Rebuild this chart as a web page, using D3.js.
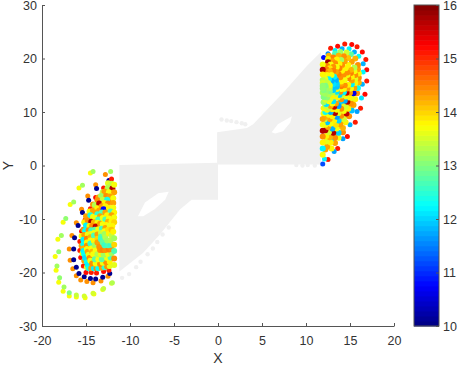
<!DOCTYPE html>
<html>
<head>
<meta charset="utf-8">
<script src="https://cdn.jsdelivr.net/npm/d3@7/dist/d3.min.js"></script>
<style>
  html, body { margin: 0; padding: 0; background: #fff; overflow: hidden; }
  text { font-family: "Liberation Sans", Arial, sans-serif; fill: #333; }
</style>
</head>
<body>
<div id="chart"></div>
<script>
// ticks
const xTicks = [-20, -15, -10, -5, 0, 5, 10, 15, 20];
const yTicks = [-30, -20, -10, 0, 10, 20, 30];
const cbTicks = [10, 11, 12, 13, 14, 15, 16];

// jet colormap stops (value -> colour)
const jetValues = [10, 10.75, 12.25, 13.75, 15.25, 16];
const jetColors = ["#000080", "#0000ff", "#00ffff", "#ffff00", "#ff0000", "#800000"];

// grey background region, read as outlines [x, y]
const grayRight = [[11.7,21.2],[10.1,18.6],[7.4,13.6],[4.0,7.7],[3.3,7.0],[-0.1,6.2],[-0.1,0.2],[11.7,0.2]];
const grayRightHole = [[6.1,6.2],[6.8,7.7],[8.4,9.2],[8.2,8.0],[7.4,6.4],[6.5,6.0]];
const grayLeft = [[-11.2,0.1],[0,0.5],[0,-6.4],[-3,-6.4],[-4.3,-8.2],[-6.6,-12.9],[-8.5,-16.3],[-11.2,-19.8]];
const grayLeftHole = [[-9.1,-9.5],[-8.3,-6.9],[-6.8,-5.2],[-5.6,-4.9],[-6.0,-6.4],[-7.2,-8.2],[-8.5,-9.5]];
// loose grey points on the region edges
const grayDots = [[0.4,8.6],[1.0,8.4],[1.5,8.3],[2.1,8.1],[2.7,7.9],[3.1,7.7],
  [-10.9,-21.0],[-10.1,-20.3],[-9.3,-19.0],[-8.8,-18.0],[-8.0,-16.6],[-7.4,-15.5],[-6.9,-14.3],[-6.3,-12.9],[-5.6,-11.6],
  [11.0,0.0],[10.2,0.1],[9.6,0.0],[8.9,0.1]];

// right lobe outer rings [x, y, value]
const rightOuter = [
  [12.5,1.1,15.1],[13.6,3.2,15.1],[14.7,5.4,15.2],[15.6,8.1,15.1],[16.2,10.7,15.1],[16.7,13.3,15.2],[16.9,15.8,15.1],[16.9,17.9,15.2],[16.8,19.8,15.1],[16.4,21.2,15.2],[15.8,22.2,15.1],[15.2,22.6,15.2],[14.4,22.7,15.1],[13.6,22.3,15.2],[12.8,21.9,15.1],
  [11.9,0.3,11.2],[12.1,1.2,12.2],[13.2,2.6,11.7],[14.2,5.0,11.7],[15.0,7.6,11.8],[15.8,10.1,11.7],[16.3,12.6,12.1],[16.4,15.2,11.8],[16.5,17.5,12.2],[16.5,19.0,11.8],[16.0,20.4,12.3],[15.5,21.2,11.8],[14.9,21.8,12.2],[14.1,21.8,11.8],[13.3,21.5,12.2],[12.5,20.9,11.6],[12.0,20.2,10.8]
];

// right lobe inner rings [x, y, value]
const rightInner = [
  [12.9,3.2,13.8],[13.3,4.2,14.3],[13.7,5.2,13.7],[14.2,6.2,14.4],[12.2,3.0,14.3],[12.5,4.0,13.7],[12.9,5.0,12.2],[13.2,6.0,14.3],[13.6,7.3,14.4],[14.1,8.4,13.7],[12.4,5.1,14.3],[12.7,6.6,13.7],[13.1,7.6,14.3],[13.5,8.8,13.8],[13.9,9.9,14.4],[12.4,7.2,13.8],[12.8,8.4,11.8],[13.2,9.6,13.7],[13.5,11.0,14.3],[12.3,9.4,14.2],[12.7,10.6,13.8],[13.1,11.8,14.3],[14.4,9.3,14.3],[15.0,10.9,13.7],[15.3,12.0,14.2],[14.3,11.2,13.8],[14.7,12.5,14.3],[13.9,11.9,12.0],[14.2,13.0,13.8],
  [12.4,3.5,14.3],[12.8,4.3,13.8],[13.3,5.2,14.4],[13.7,6.1,12.0],[14.2,7.0,14.2],[14.5,8.1,13.8],[14.9,9.2,14.4],[15.2,10.3,11.9],[15.4,11.3,14.3],[15.6,12.4,13.8],[15.8,13.5,14.4],[15.9,14.5,12.3],[16.0,15.5,14.2],[16.0,16.4,14.4],[16.0,17.2,13.8],[15.9,18.0,14.3],[15.9,18.8,14.4],[15.6,20.0,14.2],[15.1,20.8,12.8],[14.6,21.1,13.5],[13.9,21.2,13.2],[13.3,20.9,12.7],[12.6,20.5,14.2],
  [12.3,4.5,13.6],[12.7,5.3,14.2],[13.1,6.1,15.7],[13.5,6.9,13.7],[13.9,7.7,14.3],[14.3,8.7,13.5],[14.6,9.7,15.6],[14.8,10.6,13.8],[15.1,11.6,14.4],[15.2,12.6,13.6],[15.4,13.5,10.6],[15.5,14.5,14.3],[15.6,15.4,13.8],[15.6,16.2,13.6],[15.6,16.9,14.4],[15.5,17.6,13.7],[15.5,18.3,13.3],[15.2,19.4,14.3],[14.8,20.1,14.1],[14.3,20.4,14.4],[13.7,20.5,14.2],[13.1,20.2,14.5],[12.5,19.9,13.8],
  [12.3,5.5,13.8],[12.6,6.2,13.5],[13.0,6.9,11.8],[13.4,7.6,13.9],[13.7,8.4,12.0],[14.0,9.3,14.4],[14.3,10.2,13.7],[14.5,11.0,13.5],[14.7,11.9,15.7],[14.9,12.7,13.8],[15.0,13.6,14.3],[15.1,14.4,13.7],[15.2,15.2,12.2],[15.2,15.9,14.3],[15.2,16.6,13.8],[15.1,17.3,14.5],[15.1,17.9,14.2],[14.8,18.8,13.8],[14.4,19.5,14.3],[14.0,19.7,13.2],[13.5,19.8,13.8],[13.0,19.5,14.3],[12.5,19.3,15.8],
  [12.2,6.6,15.7],[12.5,7.2,14.3],[12.8,7.8,13.7],[13.2,8.4,13.8],[13.5,9.1,11.7],[13.7,9.8,13.6],[14.0,10.6,14.4],[14.4,12.1,11.8],[14.5,12.9,13.7],[14.6,13.6,15.6],[14.7,14.4,14.3],[14.8,15.1,13.8],[14.8,16.3,14.5],[14.7,16.9,13.7],[14.7,17.4,14.4],[14.5,18.2,13.8],[14.1,18.8,14.4],[13.8,19.0,13.8],[13.3,19.1,14.4],[12.8,18.9,13.7],[12.4,18.6,14.5],
  [12.2,7.6,13.7],[12.4,8.1,11.9],[12.7,8.7,14.3],[13.0,9.2,13.8],[13.3,9.8,15.7],[13.5,10.4,13.7],[13.7,11.1,11.7],[14.0,12.4,14.4],[14.1,13.1,13.5],[14.3,13.7,12.2],[14.3,14.3,13.8],[14.4,15.0,14.4],[14.4,16.0,13.7],[14.3,17.0,14.4],[14.1,17.7,13.8],[13.8,18.2,14.5],[13.5,18.4,13.7],[13.1,18.4,14.4],[12.7,18.2,13.9],[12.3,18.0,14.5],
  [12.1,8.6,13.4],[12.3,9.1,14.2],[12.6,9.5,13.7],[12.8,10.0,11.8],[13.0,10.5,13.8],[13.2,11.0,15.6],[13.4,11.6,14.3],[13.6,12.7,13.8],[13.8,13.2,12.0],[13.9,13.8,14.4],[14.0,14.3,13.7],[14.0,14.8,14.5],[14.0,15.3,14.3],[14.0,15.7,13.8],[13.9,16.5,14.4],[13.7,17.1,14.5],[13.4,17.5,14.3],[13.1,17.7,14.5],[12.7,17.6,14.2],[12.2,17.4,14.4],
  [12.0,9.7,13.7],[12.2,10.0,12.3],[12.4,10.4,13.8],[12.6,10.7,13.4],[12.8,11.1,14.3],[13.0,11.6,13.7],[13.1,12.0,12.1],[13.3,12.9,13.8],[13.4,13.4,13.4],[13.5,13.8,12.1],[13.5,14.3,13.8],[13.5,14.7,11.9],[13.5,15.3,12.0],[13.4,16.0,11.8],[13.2,16.6,12.2],[12.9,16.9,13.7],[12.4,16.9,13.8],[12.1,16.7,13.7],
  [12.0,10.7,13.8],[12.2,11.1,13.4],[12.3,11.5,12.1],[12.6,12.0,13.7],[12.8,12.5,13.6],[12.9,13.2,13.8],[13.0,13.7,13.3],[13.1,14.1,12.0],[13.1,14.7,11.9],[13.1,15.2,12.1],[12.9,15.8,11.8],[12.6,16.1,12.2],[12.2,16.1,13.6],[11.9,16.0,13.3],
  [12.0,11.8,13.2],[12.2,12.3,13.5],[12.4,12.7,13.1],[12.6,13.3,13.3],[12.7,13.9,13.0],[12.7,14.5,13.3],[12.7,15.0,13.6],[12.5,15.4,13.5],[12.2,15.6,13.4],[11.9,15.4,13.5],
  [12.0,12.8,13.0],[12.2,13.4,13.2],[12.3,14.0,13.1],[12.3,14.5,13.2],[12.2,14.9,13.0],[11.9,14.9,13.1],[11.9,13.6,13.2],[12.0,14.1,13.0],[11.9,14.4,13.1],
  [11.9,2.0,13.7],[11.9,3.2,12.2],[11.9,4.3,13.8],[11.9,5.4,14.4],[11.9,6.5,15.7],[11.9,7.6,13.7],[11.9,8.7,14.3],[11.9,18.9,13.7],[11.9,17.9,15.7],[11.9,17.0,13.8]
];

// left lobe outer rings [x, y, value]
const leftOuter = [
  [-14.5,-1.4,13.7],[-15.8,-4.2,13.7],[-16.8,-7.3,13.7],[-17.6,-10.6,13.7],[-18.2,-13.8,13.7],[-18.5,-17.0,13.7],[-18.4,-19.6,13.7],[-18.1,-21.8,13.7],[-17.6,-23.5,13.7],[-16.9,-24.4,13.7],[-16.1,-24.6,13.7],[-15.1,-24.7,13.7],[-14.1,-24.0,13.7],[-13.1,-23.2,13.6],[-12.1,-22.0,13.5],
  [-14.2,-1.1,13.2],[-15.4,-3.7,13.2],[-16.4,-6.8,13.2],[-17.3,-9.9,13.1],[-17.8,-13.1,13.2],[-18.1,-16.1,13.1],[-18.3,-18.8,13.2],[-18.0,-21.0,13.1],[-17.5,-22.7,13.2],[-16.9,-23.8,13.0],[-16.1,-24.2,13.4],[-15.2,-24.4,13.5],[-14.2,-23.9,13.5],[-13.0,-23.0,13.4],[-12.0,-21.9,13.3],
  [-12.2,-1.1,13.2],[-12.8,-1.7,14.4],[-13.9,-3.6,14.4],[-14.8,-5.7,14.4],[-15.5,-8.2,14.4],[-16.1,-10.7,14.4],[-16.6,-13.1,14.4],[-16.9,-15.6,14.4],[-16.8,-17.7,14.4],[-16.5,-19.3,14.4],[-16.1,-20.6,14.4],[-15.6,-21.4,14.4],[-14.9,-21.7,14.4],[-14.2,-21.9,14.4],[-13.3,-21.6,14.4],[-12.5,-20.7,14.4],
  [-13.8,-4.3,10.1],[-14.7,-6.5,10.1],[-15.4,-8.8,10.1],[-15.9,-11.2,10.1],[-16.3,-13.5,10.1],[-16.4,-15.6,10.1],[-16.4,-17.6,10.1],[-16.1,-19.0,10.1],[-15.8,-20.2,10.1],[-15.2,-20.8,10.1],[-14.5,-21.1,10.1],[-13.9,-21.2,10.1],[-13.1,-20.9,10.1],[-12.3,-20.2,10.1],[-12.4,-2.8,10.1],
  [-12.1,-2.5,15.1],[-13.0,-4.2,15.1],[-13.9,-6.0,15.2],[-14.5,-8.1,15.1],[-15.1,-10.2,15.1],[-15.5,-12.3,15.2],[-15.7,-14.2,15.1],[-15.7,-15.9,15.1],[-15.6,-17.2,15.2],[-15.3,-18.8,15.1],[-15.0,-20.0,15.2],[-14.4,-20.0,15.1],[-13.8,-20.1,15.1],[-13.0,-19.8,15.2],[-12.4,-19.6,15.1]
];

// left lobe inner rings [x, y, value]
const leftInner = [
  [-12.5,-3.3,13.6],[-13.1,-5.0,13.4],[-13.6,-6.0,14.3],[-14.2,-7.3,14.4],[-14.6,-8.6,13.7],[-15.0,-9.5,14.3],[-15.2,-10.6,13.8],[-15.3,-12.0,14.4],[-15.5,-13.2,13.7],[-15.5,-15.0,14.3],[-15.4,-16.4,13.8],[-15.2,-17.8,14.3],[-14.9,-19.0,13.7],[-12.6,-4.4,14.3],[-13.2,-6.4,13.7],[-13.8,-7.8,12.7],[-14.3,-10.0,13.8],[-14.5,-11.8,13.7],[-14.7,-13.2,14.3],[-14.7,-14.8,13.8],[-14.6,-16.4,14.3],[-14.2,-17.1,13.7],[-13.4,-17.0,14.4],[-12.8,-17.0,13.8],[-12.3,-16.9,14.3],[-12.2,-6.5,14.4],[-12.5,-8.3,13.7],[-12.9,-9.5,14.3],[-13.3,-10.6,13.7],[-13.5,-12.4,14.3],[-13.5,-14.0,13.8],[-13.0,-15.2,14.3],[-12.3,-15.2,13.7],[-12.2,-9.8,14.3],[-12.5,-11.0,13.6],[-12.7,-12.6,13.8],[-12.1,-11.7,14.2],
  [-12.1,-3.4,13.4],[-12.5,-4.1,13.3],[-12.9,-4.9,14.3],[-13.3,-5.7,13.2],[-13.7,-6.5,14.4],[-14.0,-7.4,13.3],[-14.2,-8.4,14.3],[-14.5,-9.3,12.4],[-14.8,-10.3,14.4],[-15.0,-11.2,12.2],[-15.1,-12.2,12.3],[-15.2,-13.0,14.3],[-15.3,-13.9,12.2],[-15.3,-14.7,12.3],[-15.3,-15.5,14.2],[-15.3,-16.0,12.2],[-15.2,-16.6,12.3],[-15.1,-17.3,12.1],[-14.9,-18.1,12.3],[-14.8,-18.6,12.2],[-14.7,-19.2,12.4],[-14.4,-19.2,14.3],[-14.1,-19.2,12.2],[-13.8,-19.2,14.4],[-13.6,-19.2,12.3],[-13.2,-19.1,14.3],[-12.9,-19.0,12.5],[-12.6,-18.9,14.4],[-12.3,-18.8,13.6],
  [-12.0,-4.3,15.7],[-12.4,-5.0,13.7],[-12.7,-5.7,14.4],[-13.1,-6.4,13.4],[-13.5,-7.1,15.6],[-13.7,-8.0,13.8],[-13.9,-8.8,14.3],[-14.2,-9.6,13.7],[-14.4,-10.5,15.7],[-14.6,-11.3,13.8],[-14.7,-12.1,14.4],[-14.8,-12.9,13.7],[-14.9,-13.7,14.5],[-14.9,-14.4,13.8],[-14.9,-15.0,14.4],[-14.9,-15.6,13.7],[-14.8,-16.1,14.3],[-14.7,-16.7,13.6],[-14.6,-17.3,14.4],[-14.5,-17.8,13.7],[-14.3,-18.3,14.4],[-13.9,-18.3,13.7],[-13.4,-18.4,14.4],[-13.1,-18.2,13.7],[-12.7,-18.1,14.4],[-12.3,-18.0,13.8],
  [-12.0,-5.2,13.7],[-12.3,-5.8,14.3],[-12.6,-6.4,12.4],[-12.9,-7.0,13.8],[-13.2,-7.6,14.3],[-13.5,-8.4,14.3],[-13.7,-9.1,12.5],[-13.9,-9.8,13.7],[-14.1,-10.6,14.2],[-14.3,-11.3,14.4],[-14.4,-12.1,12.6],[-14.5,-12.8,13.6],[-14.5,-13.4,14.2],[-14.5,-14.0,13.7],[-14.5,-14.6,12.6],[-14.4,-15.5,13.7],[-14.3,-16.1,14.2],[-14.2,-16.6,13.7],[-14.0,-17.5,12.8],[-13.6,-17.5,13.7],[-13.2,-17.5,12.8],[-12.6,-17.3,13.7],[-12.2,-17.2,12.7],
  [-11.9,-6.1,13.7],[-12.5,-7.1,14.4],[-12.8,-7.6,13.8],[-13.0,-8.2,10.8],[-13.2,-8.8,12.7],[-13.4,-9.5,14.3],[-13.6,-10.1,12.6],[-13.7,-10.7,13.7],[-13.9,-11.4,15.6],[-14.0,-12.0,12.8],[-14.1,-12.6,13.7],[-14.1,-13.1,12.7],[-14.1,-14.1,13.8],[-14.0,-14.9,13.2],[-13.9,-15.9,13.7],[-13.7,-16.6,13.3],[-13.3,-16.6,13.8],[-13.0,-16.7,13.2],[-12.5,-16.5,13.7],[-12.1,-16.4,13.2],
  [-11.9,-7.0,14.3],[-12.4,-7.9,13.8],[-12.8,-8.8,14.3],[-13.1,-9.8,13.7],[-13.4,-10.9,14.3],[-13.6,-11.9,13.7],[-13.7,-12.9,14.3],[-13.7,-13.7,14.0],[-13.7,-14.4,14.3],[-13.5,-15.2,14.4],[-13.4,-15.8,14.4],[-13.1,-15.8,14.5],[-12.8,-15.8,14.4],[-12.4,-15.7,14.5],[-12.1,-15.6,14.4],
  [-11.9,-7.9,13.7],[-12.2,-8.6,12.7],[-12.6,-9.3,13.8],[-12.8,-10.1,12.7],[-13.1,-11.0,13.7],[-13.2,-11.8,12.6],[-13.3,-12.6,13.4],[-13.3,-13.3,12.7],[-13.3,-13.8,12.6],[-13.1,-14.4,12.8],[-12.9,-14.9,12.6],[-12.5,-14.9,12.7],[-12.2,-14.8,12.6],
  [-11.8,-8.8,13.8],[-12.1,-9.3,14.3],[-12.4,-9.9,13.7],[-12.5,-10.5,14.2],[-12.7,-11.1,13.8],[-12.8,-11.7,14.3],[-12.9,-12.3,13.7],[-12.9,-12.8,13.2],[-12.8,-13.4,13.3],[-12.6,-14.0,13.2],[-12.2,-14.0,13.3],
  [-11.8,-9.7,13.7],[-12.1,-10.4,13.8],[-12.3,-11.2,13.6],[-12.5,-12.0,13.9],[-12.4,-12.7,13.8],[-12.1,-13.1,13.4],
  [-11.8,-10.6,14.0],[-12.0,-11.3,13.8],[-12.1,-12.0,14.1],[-11.9,-12.4,13.8],
  [-11.8,-3.6,13.7],[-11.8,-5.0,14.3],[-11.8,-13.6,13.2],[-11.8,-14.8,14.0],[-11.8,-16.0,12.7],[-11.8,-17.4,14.4],[-11.8,-18.6,13.6]
];

const width = 457;
const height = 365;

const svg = d3.select("#chart")
  .append("svg")
  .attr("width", width)
  .attr("height", height);

const x = d3.scaleLinear().domain([-20, 20]).range([42, 394]);
const y = d3.scaleLinear().domain([-30, 30]).range([326, 5]);
const jet = d3.scaleLinear().domain(jetValues).range(jetColors).clamp(true);
const cbScale = d3.scaleLinear().domain([10, 16]).range([326, 5]);

// grey region
const outline = d3.line().x(d => x(d[0])).y(d => y(d[1]));
[[grayRight, grayRightHole], [grayLeft, grayLeftHole]].forEach(([shape, hole]) => {
  svg.append("path")
    .attr("d", outline(shape) + "Z" + outline(hole) + "Z")
    .attr("fill", "#f0f0f0")
    .attr("fill-rule", "evenodd");
});
svg.selectAll("circle.gray")
  .data(grayDots)
  .enter()
  .append("circle")
  .attr("class", "gray")
  .attr("cx", d => x(d[0]))
  .attr("cy", d => y(d[1]))
  .attr("r", 2.2)
  .attr("fill", "#f0f0f0");

// coloured points; inner ones slightly bigger so the mosaic closes up
function drawPoints(points, r, cls) {
  svg.selectAll("circle." + cls)
    .data(points)
    .enter()
    .append("circle")
    .attr("class", cls)
    .attr("cx", d => x(d[0]))
    .attr("cy", d => y(d[1]))
    .attr("r", r)
    .attr("fill", d => jet(d[2]));
}
drawPoints(rightOuter, 2.5, "rightOuter");
drawPoints(rightInner, 3, "rightInner");
drawPoints(leftOuter, 2.5, "leftOuter");
drawPoints(leftInner, 3, "leftInner");

// axes
function styleAxis(g) {
  g.selectAll("path, line").attr("stroke", "#555").attr("stroke-width", 1);
  g.selectAll("text").attr("font-size", 12.5).attr("fill", "#333");
}
svg.append("g")
  .attr("transform", `translate(0,${y(-30)})`)
  .call(d3.axisBottom(x).tickValues(xTicks).tickFormat(d => d).tickSizeInner(-3).tickSizeOuter(0).tickPadding(10))
  .call(styleAxis);
svg.append("g")
  .attr("transform", `translate(${x(-20)},0)`)
  .call(d3.axisLeft(y).tickValues(yTicks).tickFormat(d => d).tickSizeInner(-3).tickSizeOuter(0).tickPadding(5))
  .call(styleAxis);

svg.append("text")
  .attr("x", x(0))
  .attr("y", 363)
  .attr("text-anchor", "middle")
  .attr("font-size", 14)
  .text("X");
svg.append("text")
  .attr("transform", `translate(13,${y(0)}) rotate(-90)`)
  .attr("text-anchor", "middle")
  .attr("font-size", 14)
  .text("Y");

// colorbar
const cbLeft = 414;
const cbWidth = 25;
const cbBands = d3.range(10, 16, 6 / 64);
svg.selectAll("rect.band")
  .data(cbBands)
  .enter()
  .append("rect")
  .attr("class", "band")
  .attr("x", cbLeft)
  .attr("width", cbWidth)
  .attr("y", d => cbScale(d + 6 / 64))
  .attr("height", d => cbScale(d) - cbScale(d + 6 / 64) + 0.5)
  .attr("fill", d => jet(d + 3 / 64));
svg.append("rect")
  .attr("x", cbLeft)
  .attr("y", cbScale(16))
  .attr("width", cbWidth)
  .attr("height", cbScale(10) - cbScale(16))
  .attr("fill", "none")
  .attr("stroke", "#555");
svg.append("g")
  .attr("transform", `translate(${cbLeft + cbWidth},0)`)
  .call(d3.axisRight(cbScale).tickValues(cbTicks).tickFormat(d => d).tickSizeInner(-3).tickSizeOuter(0).tickPadding(4))
  .call(styleAxis)
  .call(g => g.select(".domain").remove());
</script>
</body>
</html>
